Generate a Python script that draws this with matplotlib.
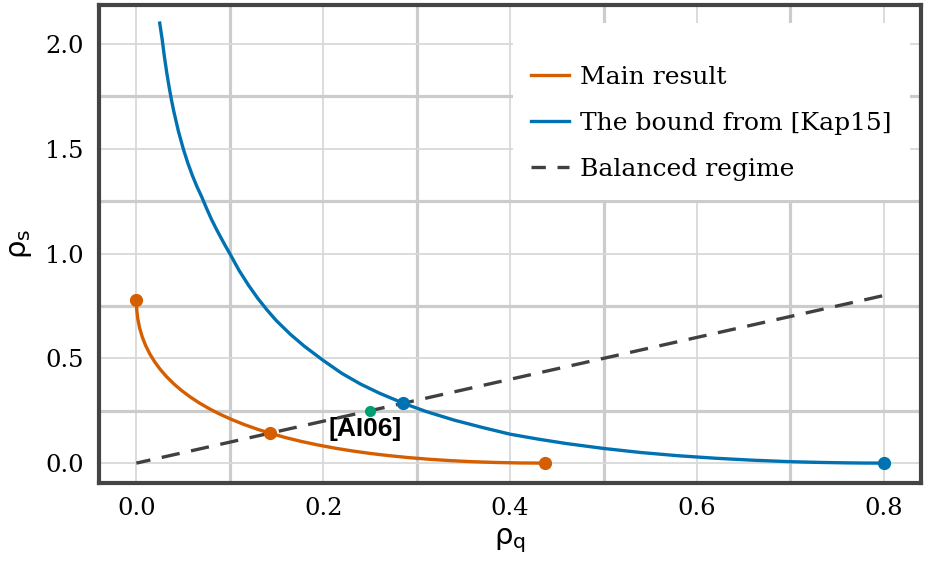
import matplotlib
matplotlib.use('Agg')
import matplotlib.pyplot as plt
from matplotlib.ticker import MultipleLocator

plt.rcParams['font.family'] = ['DejaVu Serif']
plt.rcParams['mathtext.fontset'] = 'dejavusans'

# Main result curve (rho_q, rho_s)
main_q = [0.0, 0.0004, 0.0016, 0.0036, 0.0064, 0.01, 0.0144, 0.0196, 0.0256,
          0.0324, 0.04, 0.0484, 0.0576, 0.0676, 0.0784, 0.09, 0.1024, 0.1156,
          0.1296, 0.1429, 0.16, 0.1764, 0.1936, 0.2116, 0.2304, 0.25, 0.2704,
          0.2916, 0.3136, 0.3364, 0.36, 0.3844, 0.4096, 0.4375]
main_s = [0.7778, 0.7315, 0.6866, 0.6431, 0.6010, 0.5604, 0.5212, 0.4834,
          0.4470, 0.4121, 0.3785, 0.3464, 0.3158, 0.2865, 0.2587, 0.2323,
          0.2073, 0.1837, 0.1615, 0.1429, 0.1215, 0.1036, 0.0872, 0.0721,
          0.0585, 0.0463, 0.0356, 0.0262, 0.0183, 0.0118, 0.0067, 0.0031,
          0.0008, 0.0]

# Bound from [Kap15]
kap_q = [0.025, 0.0275, 0.03, 0.0325, 0.035, 0.0375, 0.04, 0.045, 0.05,
         0.055, 0.06, 0.065, 0.07, 0.075, 0.08, 0.085, 0.09, 0.095, 0.1,
         0.11, 0.12, 0.13, 0.14, 0.15, 0.165, 0.18, 0.2, 0.22, 0.24, 0.26,
         0.2857, 0.31, 0.34, 0.37, 0.4, 0.43, 0.46, 0.5, 0.54, 0.58, 0.62,
         0.66, 0.7, 0.73, 0.76, 0.78, 0.8]
kap_s = [2.10, 2.026, 1.94, 1.864, 1.796, 1.735, 1.68, 1.584, 1.503,
         1.433, 1.372, 1.318, 1.27, 1.217, 1.167, 1.122, 1.08, 1.039, 1.0,
         0.919, 0.849, 0.786, 0.73, 0.679, 0.614, 0.557, 0.49, 0.428, 0.377,
         0.334, 0.2857, 0.2464, 0.2053, 0.1705, 0.138, 0.1145, 0.0935, 0.07,
         0.0505, 0.0352, 0.0232, 0.0138, 0.0068, 0.0034, 0.0012, 0.0003, 0.0]

# Balanced regime rho_s = rho_q
bal_q = [0.0, 0.81]
bal_s = [0.0, 0.81]

# marked points
main_pts_q = [0.0, 0.1429, 0.4375]
main_pts_s = [0.7778, 0.1429, 0.0]
kap_pts_q = [0.2857, 0.8]
kap_pts_s = [0.2857, 0.0]
ai06_q, ai06_s = 0.25, 0.25

orange = '#D55E00'
blue = '#0072B2'
green = '#009E73'
dark = '#404040'

fig = plt.figure(figsize=(9.25, 5.61), dpi=100)
ax = fig.add_axes([0.107, 0.139, 0.889, 0.852])

ax.plot(main_q, main_s, color=orange, lw=2.4, label='Main result', zorder=3)
ax.plot(kap_q, kap_s, color=blue, lw=2.4, label='The bound from [Kap15]', zorder=3)
ax.plot(bal_q, bal_s, color=dark, lw=2.4, ls=(1.2, (5.5, 3.5)), label='Balanced regime', zorder=2)

ax.plot(main_pts_q, main_pts_s, 'o', color=orange, ms=8.5, zorder=4)
ax.plot(kap_pts_q, kap_pts_s, 'o', color=blue, ms=8.5, zorder=4)
ax.plot([ai06_q], [ai06_s], 'o', color=green, ms=7, zorder=4)
ax.text(0.245, 0.163, '[AI06]', family='Liberation Sans', fontweight='bold',
        fontsize=19, ha='center', va='center', zorder=5)

ax.set_xlim(-0.04, 0.84)
ax.set_ylim(-0.095, 2.186)
ax.xaxis.set_major_locator(MultipleLocator(0.2))
ax.xaxis.set_minor_locator(MultipleLocator(0.1))
ax.yaxis.set_major_locator(MultipleLocator(0.5))
ax.yaxis.set_minor_locator(MultipleLocator(0.25))
ax.grid(True, which='major', color='#d9d9d9', lw=1.3, zorder=0)
ax.grid(True, which='minor', color='#cccccc', lw=2.3, zorder=0)
ax.set_axisbelow(True)

ax.tick_params(which='both', length=0, labelsize=17.5)
ax.tick_params(axis='x', pad=10)
ax.tick_params(axis='y', pad=11)

for sp in ax.spines.values():
    sp.set_color('#444444')
    sp.set_linewidth(3)

ax.set_xlabel('ρ$_\\mathrm{q}$', family='DejaVu Sans', fontsize=21, labelpad=5)
ax.set_ylabel('ρ$_\\mathrm{s}$', family='DejaVu Sans', fontsize=21, labelpad=8)

leg = ax.legend(loc='upper right', bbox_to_anchor=(0.9866, 0.962), borderaxespad=0,
                fontsize=18, fancybox=False, framealpha=1, edgecolor='white',
                handlelength=1.5, handletextpad=0.45, labelspacing=0.92,
                borderpad=0.75, title=' ', title_fontsize=1)
leg.get_frame().set_linewidth(0)

fig.savefig('out.png', dpi=100)
